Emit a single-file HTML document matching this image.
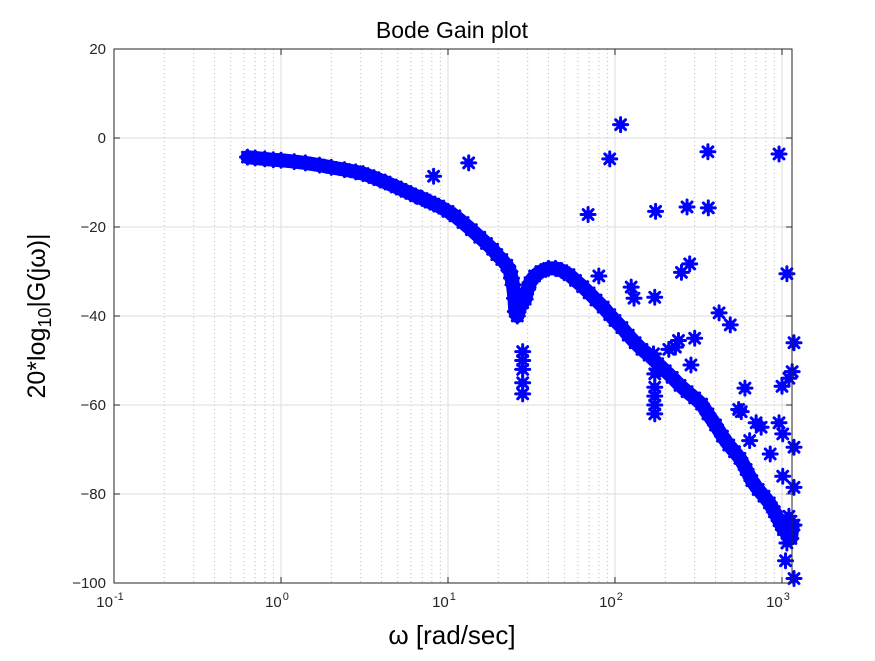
<!DOCTYPE html>
<html><head><meta charset="utf-8"><style>
body{margin:0;background:#fff;}
svg text{font-family:"Liberation Sans","Noto Sans CJK JP",sans-serif;}
</style></head><body>
<svg id="chart" width="875" height="656" xmlns="http://www.w3.org/2000/svg">
<rect width="875" height="656" fill="#fff"/>
<g id="grid"></g>
<g id="marks"></g>
<g id="axes"></g>
<text x="452" y="38" font-size="23" text-anchor="middle" fill="#000">Bode Gain plot</text>
<text x="452" y="644" font-size="26" text-anchor="middle" fill="#000">ω [rad/sec]</text>
<text transform="translate(45,316) rotate(-90)" font-size="25" text-anchor="middle" fill="#000">20*log<tspan font-size="18" dy="6">10</tspan><tspan dy="-6">|G(jω)|</tspan></text>
</svg>
<script>
const omegaMain=[0.63,0.7,0.8,0.9,1,1.2,1.4,1.7,2,2.4,2.8,3.1,3.6,4.2,4.9,5.6,6.4,7,7.8,8.8,10,11,12.3,13.8,15.5,17,18.5,19.6,21,22.5,23.5,24,24.5,25,25.3,26,27,28,29,30,31,33,36,40,44,48,53,58,64,70,77,85,93,100,110,120,132,145,160,180,200,220,245,270,300,330,360,400,440,480,520,560,610,660,720,780,840,900,960,1020,1080,1130,1160];
const gainMain=[-4.3,-4.5,-4.7,-4.9,-5,-5.3,-5.6,-6.1,-6.6,-7.1,-7.6,-8,-8.9,-9.9,-11,-12,-13,-13.6,-14.4,-15.3,-16.5,-17.5,-19,-20.6,-22.3,-23.7,-25,-26.2,-27.3,-28.6,-30,-31.5,-33,-36,-39,-40,-38,-37,-36.2,-34,-32.5,-31,-30,-29.3,-29.3,-29.8,-30.7,-32,-33.4,-34.8,-36.4,-38,-39.7,-41,-42.6,-44.3,-46,-47.5,-48.8,-50.7,-52.3,-53.8,-55.6,-57,-58.4,-59.8,-62,-64.5,-67,-69,-70.5,-72,-74.5,-77,-79,-80.5,-82,-84,-86,-88,-89,-90,-87];
const omegaOut=[28,28,28,28,28,8.2,13.3,69,80,93,108,125,130,173,175,173,173,173,173,173,170,270,280,250,360,362,420,490,960,1070,1180,1150,1100,1000,600,570,700,750,960,1010,1180,640,850,550,300,240,230,285,210,1010,1180,1100,1180,1050,1180,1070];
const gainOut=[-48,-50,-52,-55,-57.5,-8.6,-5.6,-17.2,-31,-4.7,3,-33.5,-36,-35.8,-16.5,-53,-56,-58,-60,-62,-48.5,-15.5,-28.3,-30.2,-3.1,-15.7,-39.3,-42,-3.6,-30.5,-46,-52.5,-54,-55.8,-56.2,-61.5,-64,-65,-64,-66.5,-69.5,-68,-71,-61,-45,-45.5,-47,-51,-47.5,-76,-78.5,-85,-87,-95,-99,-91];
const yTicks=[20,0,-20,-40,-60,-80,-100];
const xDecades=[-1,0,1,2,3];

const L=114,R=792,T=49,B=583,X0=114,DEC=167;
const xs=w=>X0+(Math.log10(w)+1)*DEC;
const ys=d=>T+(20-d)*(B-T)/120;
const NS="http://www.w3.org/2000/svg";
function mk(tag,attrs,parent){const e=document.createElementNS(NS,tag);for(const k in attrs)e.setAttribute(k,attrs[k]);parent.appendChild(e);return e;}
const grid=document.getElementById('grid'),axes=document.getElementById('axes'),marks=document.getElementById('marks');
for(const d of xDecades){for(let m=2;m<=9;m++){const x=xs(m*Math.pow(10,d));if(x>R)continue;
const ln=mk('line',{x1:x,x2:x,y1:T,y2:B,stroke:'#b8b8b8','stroke-width':1,'stroke-dasharray':'1,3'},grid);

}}
for(const d of xDecades){const x=xs(Math.pow(10,d));
const ln=mk('line',{x1:x,x2:x,y1:T,y2:B,stroke:'#dcdcdc','stroke-width':1},grid);


mk('line',{x1:x,x2:x,y1:B,y2:B-6,stroke:'#262626'},axes);
mk('line',{x1:x,x2:x,y1:T,y2:T+6,stroke:'#262626'},axes);
const t=mk('text',{x:x-4,y:B+24,'font-size':15,'text-anchor':'middle',fill:'#262626'},axes);


t.textContent='10';
const s=mk('tspan',{'font-size':11,dy:-7,dx:1},t);s.textContent=String(d);}
for(const v of yTicks){const y=ys(v);
const ln=mk('line',{x1:L,x2:R,y1:y,y2:y,stroke:'#dcdcdc','stroke-width':1},grid);


mk('line',{x1:L,x2:L+6,y1:y,y2:y,stroke:'#262626'},axes);
mk('line',{x1:R,x2:R-6,y1:y,y2:y,stroke:'#262626'},axes);
const t=mk('text',{x:L-8,y:y+5,'font-size':15,'text-anchor':'end',fill:'#262626'},axes);


t.textContent=String(v).replace('-','−');}
const box=mk('rect',{x:L,y:T,width:R-L,height:B-T,fill:'none',stroke:'#262626','stroke-width':1},axes);


function star(w,d){const cx=xs(w),cy=ys(d),r=7;
const g=mk('g',{stroke:'#0000ff','stroke-width':3,'stroke-linecap':'round'},marks);


for(let i=0;i<4;i++){const a=i*Math.PI/4;const dx=r*Math.cos(a),dy=r*Math.sin(a);
mk('line',{x1:cx-dx,y1:cy-dy,x2:cx+dx,y2:cy+dy},g);}
mk('circle',{cx:cx,cy:cy,r:4.5,fill:'#0000ff',stroke:'none'},g);}
omegaMain.forEach((w,i)=>star(w,gainMain[i]));
for(let i=0;i<omegaMain.length-1;i++){
const x1=xs(omegaMain[i]),x2=xs(omegaMain[i+1]),y1=ys(gainMain[i]),y2=ys(gainMain[i+1]);
const ln=mk('line',{x1:x1,y1:y1,x2:x2,y2:y2,stroke:'#0000ff','stroke-width':14,'stroke-linecap':'round'},marks);

}
omegaOut.forEach((w,i)=>star(w,gainOut[i]));
</script>
</body></html>
